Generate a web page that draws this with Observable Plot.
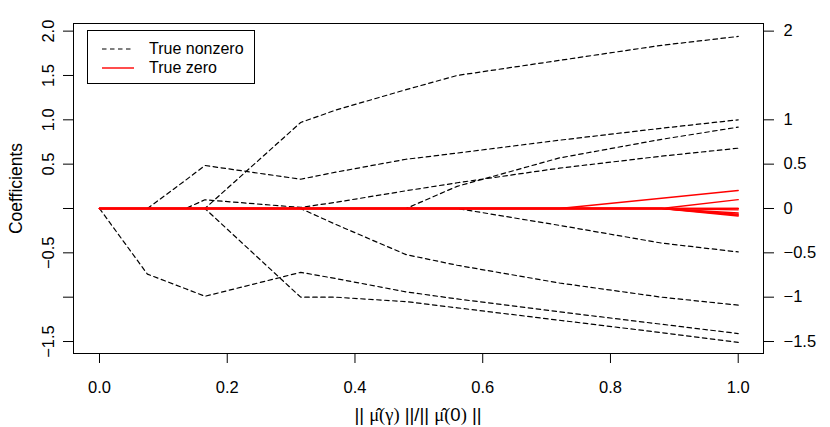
<!DOCTYPE html>
<html><head><meta charset="utf-8">
<script src="https://cdn.jsdelivr.net/npm/d3@7"></script>
<script src="https://cdn.jsdelivr.net/npm/@observablehq/plot@0.6"></script>
<style>
body{margin:0;background:#fff;}
#wrap{position:relative;width:830px;height:427px;font-family:"Liberation Sans",Arial,sans-serif;}
.legend{position:absolute;left:87px;top:30px;width:166px;height:52px;border:1px solid #000;background:#fff;font-size:16px;color:#000;}
.legend .row{position:absolute;left:0;height:18px;width:166px;}
.legend svg{position:absolute;left:14px;top:0;}
.legend span{position:absolute;left:61px;top:0;line-height:18px;white-space:nowrap;}
</style></head><body><div id="wrap"></div>
<script>
// path breakpoints (x = ||mu(gamma)|| / ||mu(0)||)
const xBreaks = [0, 0.075, 0.135, 0.165, 0.315, 0.37, 0.48, 0.56, 0.72, 0.88, 1.0];

// true nonzero coefficients (black dashed)
const coefA = [0, 0, 0, 0, 0.97, 1.11, 1.34, 1.50, 1.67, 1.84, 1.94];
const coefB = [0, 0, 0.32, 0.485, 0.33, 0.41, 0.555, 0.625, 0.77, 0.905, 1.0];
const coefC = [0, 0, 0, 0.098, 0.012, 0.07, 0.2, 0.29, 0.455, 0.59, 0.68];
const coefD = [0, 0, 0, 0, -1.0, -1.0, -1.05, -1.12, -1.26, -1.40, -1.51];
const coefE = [0, -0.74, -0.905, -0.99, -0.72, -0.79, -0.94, -1.02, -1.165, -1.305, -1.41];
const coefF = [0, 0, 0, 0, 0, -0.18, -0.52, -0.64, -0.84, -1.0, -1.09];
const coefG = [0, 0, 0, 0, 0, 0, 0, 0, -0.19, -0.39, -0.49];
const coefH = [0, 0, 0, 0, 0, 0, 0, 0.25, 0.57, 0.78, 0.917];

// true zero coefficients (red solid)
const zero1 = [0, 0, 0, 0, 0, 0, 0, 0, 0, 0.115, 0.203];
const zero2 = [0, 0, 0, 0, 0, 0, 0, 0, 0, 0, 0.10];
const zero3 = [0, 0, 0, 0, 0, 0, 0, 0, 0, 0, -0.015];
const zero4 = [0, 0, 0, 0, 0, 0, 0, 0, 0, 0, -0.05];
const zero5 = [0, 0, 0, 0, 0, 0, 0, 0, 0, 0, -0.065];
const zero6 = [0, 0, 0, 0, 0, 0, 0, 0, 0, 0, -0.075];
const zero7 = [0, 0, 0, 0, 0, 0, 0, 0, 0, 0, -0.085];
const zero8 = [0, 0, 0, 0, 0, 0, 0, 0, 0, 0, 0];
const zero9 = [0, 0, 0, 0, 0, 0, 0, 0, 0, 0, 0];

const nonzeroSeries = [coefA, coefB, coefC, coefD, coefE, coefF, coefG, coefH];
const zeroSeries = [zero1, zero2, zero3, zero4, zero5, zero6, zero7, zero8, zero9];

// axes
const xTicks = [0, 0.2, 0.4, 0.6, 0.8, 1.0];
const leftTicks = [2, 1.5, 1, 0.5, 0, -0.5, -1, -1.5];
const leftTickValues = [2, 1.5, 1, 0.5, -0.5, -1.5];
const leftTickLabels = ["2.0", "1.5", "1.0", "0.5", "\u22120.5", "\u22121.5"];
const rightTicks = [2, 1, 0.5, 0, -0.5, -1, -1.5];
const rightTickLabels = ["2", "1", "0.5", "0", "\u22120.5", "\u22121", "\u22121.5"];
const legendLabels = ["True nonzero", "True zero"];

const toRows = (series, prefix) => series.flatMap((vals, i) =>
  vals.map((v, j) => ({x: xBreaks[j], y: v, id: prefix + i})));
const nonzeroRows = toRows(nonzeroSeries, "nz");
const zeroRows = toRows(zeroSeries, "z");
const leftLabelRows = leftTickValues.map((v, i) => ({v, label: leftTickLabels[i]}));

const font = "Liberation Sans, Arial, sans-serif";
const chart = Plot.plot({
  width: 830, height: 427,
  marginLeft: 73, marginRight: 67, marginTop: 23, marginBottom: 74,
  style: {fontFamily: font, fontSize: "16px", background: "white", color: "black", overflow: "visible"},
  x: {domain: [-0.0407, 1.0396]},
  y: {domain: [-1.635, 2.086]},
  marks: [
    Plot.line(nonzeroRows, {x: "x", y: "y", z: "id", stroke: "#000", strokeWidth: 1.2, strokeDasharray: "4.5,3.5"}),
    Plot.line(zeroRows, {x: "x", y: "y", z: "id", stroke: "#ff0000", strokeWidth: 1.4}),
    Plot.frame({stroke: "#000", strokeWidth: 1}),
    Plot.axisX({ticks: xTicks, tickFormat: d3.format(".1f"), tickSize: 10, tickPadding: 18, label: null, fontSize: 16.5}),
    Plot.axisY({ticks: leftTicks, tickFormat: () => "", tickSize: 10, label: null}),
    Plot.text(leftLabelRows, {y: "v", text: "label", frameAnchor: "left", rotate: -90, textAnchor: "middle", lineAnchor: "bottom", dx: -20, fontSize: 16.5}),
    Plot.axisY({anchor: "right", ticks: rightTicks, tickSize: 10, tickPadding: 10,
      tickFormat: d => rightTickLabels[rightTicks.indexOf(d)], label: null, fontSize: 16.5}),
    Plot.text(["Coefficients"], {frameAnchor: "left", rotate: -90, textAnchor: "middle", lineAnchor: "bottom", dx: -52, fontSize: 17.5})
  ]
});

const wrap = document.getElementById("wrap");
wrap.appendChild(chart);

// x axis title with math symbols
const xr = chart.scale("x").range;
const svg = d3.select(chart);
const t = svg.append("text")
  .attr("x", (xr[0] + xr[1]) / 2)
  .attr("y", 421)
  .attr("text-anchor", "middle")
  .attr("font-size", 18.5)
  .attr("fill", "#000");
const serif = "Liberation Serif, Times New Roman, serif";
const parts = [
  ["|| ", font], ["\u03bc\u0302", serif], ["(\u03b3)", serif], [" ||/|| ", font],
  ["\u03bc\u0302", serif], ["(", serif], ["0", font], [")", serif], [" ||", font]
];
parts.forEach(([s, f]) => t.append("tspan").attr("font-family", f).text(s));

// legend
const lg = document.createElement("div");
lg.className = "legend";
const styles = [{stroke: "#000", dash: "4.5,3.5", w: 1.2}, {stroke: "#ff0000", dash: null, w: 1.4}];
legendLabels.forEach((lab, i) => {
  const row = document.createElement("div");
  row.className = "row";
  row.style.top = (9 + i * 18.5) + "px";
  row.innerHTML = `<svg width="34" height="18"><line x1="0" x2="32" y1="9" y2="9" stroke="${styles[i].stroke}" stroke-width="${styles[i].w}" ${styles[i].dash ? `stroke-dasharray="${styles[i].dash}"` : ""}/></svg><span>${lab}</span>`;
  lg.appendChild(row);
});
wrap.appendChild(lg);
</script></body></html>
